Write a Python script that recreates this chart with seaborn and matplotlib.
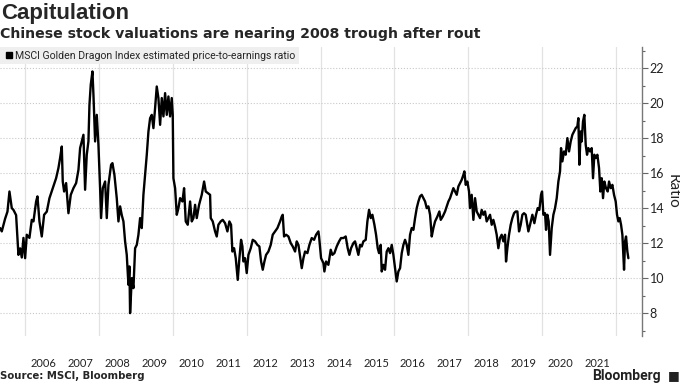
import numpy as np
import pandas as pd
import seaborn as sns
import matplotlib.pyplot as plt
from matplotlib.lines import Line2D
from matplotlib.ticker import FixedLocator, MultipleLocator

# Decimal year of each reading and the P/E ratio
years = [
    2005.323, 2005.368, 2005.459, 2005.522, 2005.576, 2005.639, 2005.684, 2005.756,
    2005.819, 2005.865, 2005.910, 2005.955, 2006.000, 2006.045, 2006.117, 2006.180,
    2006.226, 2006.298, 2006.334, 2006.388, 2006.451, 2006.514, 2006.587, 2006.659,
    2006.748, 2006.839, 2006.902, 2006.947, 2006.993, 2007.019, 2007.056, 2007.110,
    2007.173, 2007.236, 2007.308, 2007.381, 2007.444, 2007.489, 2007.534, 2007.579,
    2007.624, 2007.669, 2007.714, 2007.742, 2007.777, 2007.823, 2007.850, 2007.895,
    2007.940, 2007.985, 2008.030, 2008.057, 2008.103,
    2008.166, 2008.211, 2008.256, 2008.328, 2008.364, 2008.418, 2008.481, 2008.527,
    2008.572, 2008.617, 2008.662, 2008.707, 2008.752, 2008.797, 2008.824, 2008.842,
    2008.888, 2008.933, 2008.978, 2009.023, 2009.068, 2009.113, 2009.158, 2009.203,
    2009.249, 2009.294, 2009.339, 2009.384, 2009.429, 2009.474, 2009.519, 2009.564,
    2009.609, 2009.655, 2009.700, 2009.745, 2009.790, 2009.835, 2009.880, 2009.925,
    2009.970, 2009.997, 2010.015, 2010.061, 2010.106, 2010.151, 2010.196, 2010.259,
    2010.304, 2010.349, 2010.403, 2010.467, 2010.512, 2010.557, 2010.602, 2010.647,
    2010.710, 2010.782, 2010.846, 2010.891, 2010.945, 2011.008,
    2011.026, 2011.080, 2011.143, 2011.188, 2011.233, 2011.296, 2011.350, 2011.414,
    2011.477, 2011.531, 2011.576, 2011.612, 2011.658, 2011.703, 2011.757, 2011.802,
    2011.847, 2011.883, 2011.910, 2011.955, 2012.000, 2012.046, 2012.109, 2012.163,
    2012.226, 2012.289, 2012.343, 2012.389, 2012.434, 2012.479, 2012.524, 2012.587,
    2012.650, 2012.704, 2012.768, 2012.831, 2012.903, 2012.948, 2012.975, 2013.011,
    2013.066, 2013.129, 2013.192, 2013.246, 2013.309, 2013.354, 2013.400, 2013.445,
    2013.490, 2013.535, 2013.580, 2013.643, 2013.697, 2013.760, 2013.824, 2013.878,
    2013.941,
    2013.959, 2014.013, 2014.076, 2014.103, 2014.148, 2014.211, 2014.274, 2014.320,
    2014.374, 2014.437, 2014.500, 2014.554, 2014.617, 2014.680, 2014.734, 2014.780,
    2014.825, 2014.888, 2014.933, 2014.978, 2015.023, 2015.069, 2015.114, 2015.159,
    2015.222, 2015.267, 2015.312, 2015.358, 2015.403, 2015.457, 2015.502, 2015.547,
    2015.583, 2015.628, 2015.655, 2015.700, 2015.745, 2015.790, 2015.836, 2015.881,
    2015.926, 2015.971, 2016.016, 2016.061, 2016.106, 2016.152, 2016.197, 2016.242,
    2016.287, 2016.332, 2016.377, 2016.422, 2016.467, 2016.513, 2016.558, 2016.603,
    2016.648, 2016.693, 2016.738, 2016.783,
    2016.829, 2016.874, 2016.919, 2016.964, 2017.009, 2017.054, 2017.099, 2017.162,
    2017.216, 2017.253, 2017.307, 2017.370, 2017.415, 2017.460, 2017.505, 2017.550,
    2017.595, 2017.641, 2017.686, 2017.731, 2017.776, 2017.821, 2017.866, 2017.893,
    2017.929, 2017.974, 2018.019, 2018.046, 2018.091, 2018.137, 2018.182, 2018.227,
    2018.272, 2018.317, 2018.362, 2018.407, 2018.452, 2018.497, 2018.543, 2018.588,
    2018.633, 2018.678, 2018.723, 2018.768, 2018.813, 2018.858, 2018.903, 2018.948,
    2018.994, 2019.021, 2019.057, 2019.102, 2019.147, 2019.192, 2019.238, 2019.283,
    2019.328, 2019.373, 2019.418, 2019.463, 2019.508, 2019.554, 2019.599,
    2019.626, 2019.671, 2019.734, 2019.788, 2019.833, 2019.878, 2019.923, 2019.968,
    2019.996, 2020.032, 2020.077, 2020.104, 2020.140, 2020.176, 2020.212, 2020.258,
    2020.303, 2020.348, 2020.393, 2020.438, 2020.483, 2020.510, 2020.546, 2020.591,
    2020.636, 2020.682, 2020.727, 2020.772, 2020.817, 2020.862, 2020.907, 2020.952,
    2020.979, 2021.006, 2021.042, 2021.069, 2021.105, 2021.141, 2021.178, 2021.214,
    2021.250, 2021.295, 2021.340, 2021.376, 2021.412, 2021.448, 2021.494, 2021.539,
    2021.575, 2021.611, 2021.647, 2021.683, 2021.728, 2021.774, 2021.810, 2021.855,
    2021.900, 2021.945, 2021.990, 2022.026, 2022.063, 2022.099, 2022.135, 2022.171,
    2022.198, 2022.216, 2022.243, 2022.270, 2022.306, 2022.333,
]

pe_ratio = [
    12.86, 12.67, 13.40, 13.80, 14.95, 14.00, 13.90, 13.60,
    11.33, 11.70, 11.18, 12.30, 11.14, 12.48, 12.30, 13.33,
    13.24, 14.38, 14.67, 13.24, 12.38, 13.62, 13.80, 14.57,
    15.14, 15.71, 16.29, 16.86, 17.52, 15.52, 14.95, 15.43,
    13.71, 14.76, 15.14, 15.43, 16.19, 17.43, 17.81, 18.19,
    15.05, 17.05, 17.81, 19.90, 21.05, 21.81, 20.48, 17.81,
    19.33, 17.62, 15.14, 13.43, 15.14,
    15.52, 13.43, 15.33, 16.48, 16.57, 15.90, 14.57, 13.24,
    14.10, 13.60, 13.24, 12.10, 11.33, 9.62, 10.67, 8.00,
    10.00, 9.43, 11.71, 11.90, 12.48, 13.43, 12.86, 14.76,
    15.90, 17.05, 18.38, 19.14, 19.33, 18.57, 19.71, 20.95,
    20.29, 18.76, 20.29, 19.24, 20.57, 19.33, 20.38, 19.24,
    20.29, 19.33, 15.71, 15.14, 13.62, 14.00, 14.57, 14.38,
    15.14, 13.24, 13.05, 14.38, 13.24, 13.43, 14.19, 13.43,
    14.19, 14.76, 15.52, 14.95, 14.86, 14.76,
    13.43, 13.24, 12.67, 12.38, 13.05, 13.24, 13.33, 13.14,
    12.67, 13.24, 13.05, 11.52, 11.71, 11.14, 9.90, 11.14,
    12.19, 11.81, 10.95, 11.14, 10.29, 11.33, 11.71, 12.19,
    12.10, 11.90, 11.81, 10.95, 10.48, 10.95, 11.33, 11.52,
    11.90, 12.48, 12.67, 12.86, 13.24, 13.52, 13.62, 12.38,
    12.48, 12.38, 12.00, 11.81, 11.52, 12.10, 11.90, 11.24,
    10.57, 11.14, 11.52, 11.43, 11.90, 12.29, 12.19, 12.48,
    12.67,
    12.38, 11.14, 10.86, 10.38, 10.95, 10.76, 11.62, 11.33,
    11.43, 11.81, 12.10, 12.29, 12.29, 12.38, 11.71, 11.33,
    11.71, 12.00, 12.10, 11.71, 11.33, 11.90, 11.81, 12.10,
    12.19, 13.24, 13.90, 13.43, 13.62, 13.05, 12.48, 11.71,
    11.43, 11.90, 10.38, 10.76, 10.48, 11.52, 11.71, 11.43,
    11.90, 11.33, 10.57, 9.81, 10.38, 10.57, 11.43, 11.90,
    12.19, 11.90, 11.33, 12.48, 12.86, 12.76, 13.43, 14.00,
    14.38, 14.67, 14.76, 14.57,
    14.38, 14.00, 14.10, 13.62, 12.38, 12.86, 13.24, 13.52,
    13.81, 13.33, 13.52, 13.81, 14.10, 14.38, 14.57, 14.86,
    15.14, 14.95, 14.76, 15.24, 15.43, 15.62, 15.90, 16.10,
    15.33, 15.52, 14.95, 14.00, 14.76, 13.33, 14.57, 13.81,
    13.62, 13.43, 13.90, 13.62, 13.81, 13.24, 13.43, 13.62,
    13.05, 13.33, 12.95, 12.48, 11.71, 12.29, 12.48, 12.10,
    12.48, 10.95, 11.71, 12.48, 13.05, 13.43, 13.71, 13.81,
    13.81, 12.67, 13.05, 13.62, 13.71, 13.62, 13.05,
    12.67, 13.05, 13.62, 13.14, 13.62, 14.00, 13.90, 14.76,
    14.95, 13.62, 13.71, 12.76, 13.62, 13.24, 11.33, 12.86,
    13.62, 14.00, 14.57, 15.52, 16.10, 17.43, 16.67, 17.24,
    17.05, 18.00, 17.24, 17.81, 18.19, 18.38, 18.57, 18.67,
    19.14, 16.48, 18.38, 17.81, 18.95, 19.33, 17.62, 17.05,
    17.43, 17.24, 17.43, 15.71, 17.05, 16.86, 17.05, 16.29,
    14.95, 15.71, 14.57, 15.52, 15.14, 14.95, 15.52, 15.14,
    15.33, 14.76, 14.38, 13.62, 13.24, 13.43, 13.05, 12.48,
    11.33, 10.48, 12.10, 12.38, 11.52, 11.14,
]

year_labels = list(range(2006, 2022))
y_ticks = list(range(8, 23, 2))

df = pd.DataFrame({'Year': years, 'PE': pe_ratio})

sns.set_style('white')
plt.rcParams['font.family'] = ['Lato', 'DejaVu Sans']

fig = plt.figure(figsize=(6.8, 3.83), dpi=100)
ax = fig.add_axes([0.0, 0.123, 0.944, 0.754])

sns.lineplot(data=df, x='Year', y='PE', color='black', linewidth=1.7, ax=ax)

ax.set_xlim(2005.32, 2022.70)
ax.set_ylim(6.7, 23.2)

# x axis: labels mid-year, gridlines every other year start
ax.set_xticks([y + 0.5 for y in year_labels])
ax.set_xticklabels([str(y) for y in year_labels])
ax.xaxis.set_minor_locator(FixedLocator(list(range(2006, 2023, 2))))
ax.tick_params(axis='x', which='both', length=0, pad=16, labelsize=8, labelcolor='#222222')
ax.grid(which='minor', axis='x', color='#e2e2e2', linewidth=0.9, linestyle='-')
ax.grid(which='major', axis='x', visible=False)

# y axis on the right
ax.yaxis.tick_right()
ax.yaxis.set_label_position('right')
ax.set_yticks(y_ticks)
ax.yaxis.set_minor_locator(MultipleLocator(1))
ax.tick_params(axis='y', which='major', direction='out', length=4, width=0.8,
               color='#666666', pad=1.5, labelsize=9, labelcolor='#222222')
ax.tick_params(axis='y', which='minor', direction='out', length=2.5, width=0.8,
               color='#666666')
ax.grid(which='major', axis='y', color='#c8c8c8', linewidth=0.8, linestyle=':')
ax.set_ylabel('Ratio', rotation=270, labelpad=11, fontsize=11, color='#222222')
ax.set_xlabel('')

for side in ['left', 'top', 'bottom']:
    ax.spines[side].set_visible(False)
ax.spines['right'].set_color('#777777')
ax.spines['right'].set_linewidth(1.0)

handle = Line2D([], [], marker='s', color='black', linestyle='none', markersize=5)
leg = ax.legend([handle], ['MSCI Golden Dragon Index estimated price-to-earnings ratio'],
                loc='upper left', bbox_to_anchor=(0.0, 1.0), borderaxespad=0,
                frameon=True, fancybox=False, handletextpad=0.1, handlelength=1.0,
                borderpad=0.35, prop={'family': 'Roboto', 'size': 7.6})
leg.get_frame().set_facecolor('#efefef')
leg.get_frame().set_edgecolor('none')
leg.get_frame().set_alpha(1)

fig.text(0.002, 1 - 3 / 383, 'Capitulation', ha='left', va='top',
         fontsize=16, fontweight='bold', family='Liberation Sans')
fig.text(0.0, 1 - 27 / 383, 'Chinese stock valuations are nearing 2008 trough after rout',
         ha='left', va='top', fontsize=10.15, fontweight='bold', family='DejaVu Sans')
fig.text(0.0, 1 - 376 / 383, 'Source: MSCI, Bloomberg', ha='left', va='center',
         fontsize=7.3, fontweight='bold', family='DejaVu Sans')
fig.text(0.972, 1 - 376 / 383, 'Bloomberg', ha='right', va='center',
         fontsize=10, fontweight='bold', family='Roboto', color='#222222')
fig.text(1.0, 1 - 376 / 383, '\u25A0', ha='right', va='center',
         fontsize=9, color='#222222', family='DejaVu Sans')

fig.savefig('out.png', dpi=100)
